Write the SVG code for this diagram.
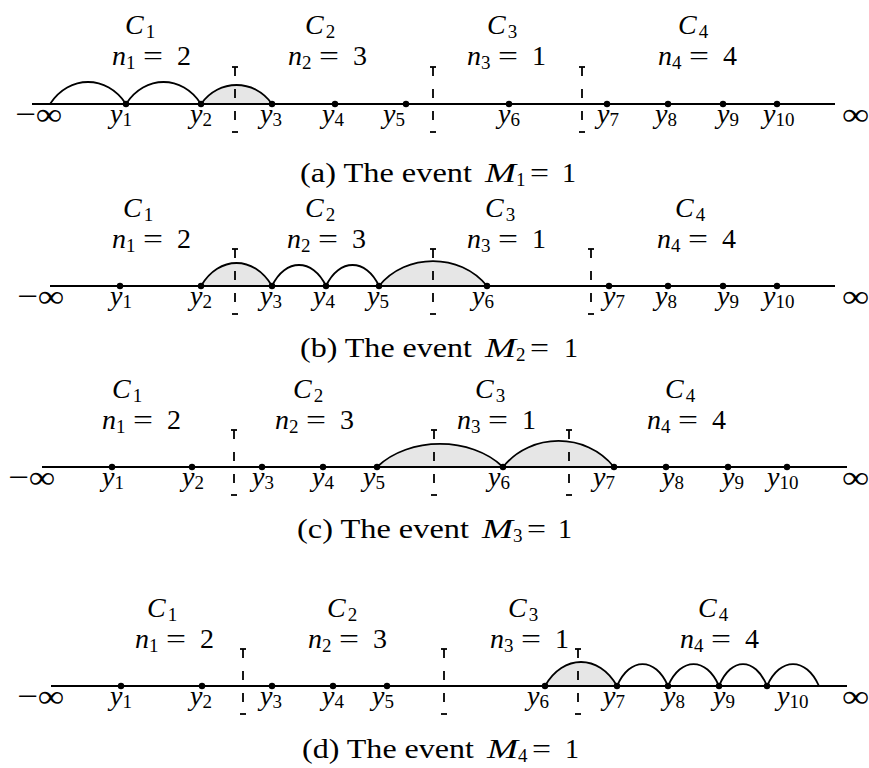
<svg xmlns="http://www.w3.org/2000/svg" width="869" height="768" viewBox="0 0 869 768">
<style>
.axis{stroke:#000;stroke-width:2;fill:none}
.arc{stroke:#000;stroke-width:1.8;fill:none}
.sh{fill:#e6e6e6;stroke:#000;stroke-width:1.8}
.dv{stroke:#000;stroke-width:1.8;stroke-dasharray:9 13;fill:none}
.tk{stroke:#000;stroke-width:1.8}
.dot{fill:#000}
text{font-family:"Liberation Serif","Times New Roman",serif;font-size:28px;fill:#000}
.m{font-style:italic}
.r{font-style:normal}
.s{font-size:19px;font-style:normal}
.inf{font-size:32px}
</style>
<rect width="869" height="768" fill="#fff"/>

<!-- Panel (a) -->
<g id="panel-a">
  <g id="a-connectors">
    <path class="sh" d="M201,104 C218.8,78.7 254.3,78.7 272,104Z"/>
    <line class="axis" x1="32" y1="104" x2="835" y2="104"/>
    <path class="arc" d="M50,104 C69,74.7 107,74.7 126,104"/>
    <path class="arc" d="M126,104 C144.8,74.7 182.3,74.7 201,104"/>
  </g>
  <g id="a-dividers">
    <line class="dv" x1="235" y1="67" x2="235" y2="132"/><line class="tk" x1="232" y1="67" x2="238" y2="67"/><line class="tk" x1="232" y1="132" x2="238" y2="132"/>
    <line class="dv" x1="433" y1="67" x2="433" y2="132"/><line class="tk" x1="430" y1="67" x2="436" y2="67"/><line class="tk" x1="430" y1="132" x2="436" y2="132"/>
    <line class="dv" x1="582" y1="67" x2="582" y2="132"/><line class="tk" x1="579" y1="67" x2="585" y2="67"/><line class="tk" x1="579" y1="132" x2="585" y2="132"/>
  </g>
  <g id="a-points">
    <circle class="dot" cx="126" cy="104" r="3.2"/><circle class="dot" cx="201" cy="104" r="3.2"/><circle class="dot" cx="272" cy="104" r="3.2"/><circle class="dot" cx="335" cy="104" r="3.2"/><circle class="dot" cx="406" cy="104" r="3.2"/>
    <circle class="dot" cx="509" cy="104" r="3.2"/><circle class="dot" cx="607" cy="104" r="3.2"/><circle class="dot" cx="668" cy="104" r="3.2"/><circle class="dot" cx="723" cy="104" r="3.2"/><circle class="dot" cx="777" cy="104" r="3.2"/>
  </g>
  <g id="a-labels">
    <text class="m" x="125" y="34">C<tspan class="s" dx="2" dy="4">1</tspan></text>
    <text class="m" x="305" y="34">C<tspan class="s" dx="2" dy="4">2</tspan></text>
    <text class="m" x="487" y="34">C<tspan class="s" dx="2" dy="4">3</tspan></text>
    <text class="m" x="678" y="34">C<tspan class="s" dx="2" dy="4">4</tspan></text>
    <text class="m" x="112" y="65">n<tspan class="s" dy="4">1</tspan><tspan class="r" x="143" dy="-4" textLength="20" lengthAdjust="spacingAndGlyphs">=</tspan><tspan class="r" x="177">2</tspan></text>
    <text class="m" x="288" y="65">n<tspan class="s" dy="4">2</tspan><tspan class="r" x="319" dy="-4" textLength="20" lengthAdjust="spacingAndGlyphs">=</tspan><tspan class="r" x="353">3</tspan></text>
    <text class="m" x="467" y="65">n<tspan class="s" dy="4">3</tspan><tspan class="r" x="498" dy="-4" textLength="20" lengthAdjust="spacingAndGlyphs">=</tspan><tspan class="r" x="532">1</tspan></text>
    <text class="m" x="658" y="65">n<tspan class="s" dy="4">4</tspan><tspan class="r" x="689" dy="-4" textLength="20" lengthAdjust="spacingAndGlyphs">=</tspan><tspan class="r" x="723">4</tspan></text>
    <text class="inf" x="15" y="125" textLength="47" lengthAdjust="spacingAndGlyphs">−∞</text>
    <text class="inf" x="842" y="125" textLength="27" lengthAdjust="spacingAndGlyphs">∞</text>
    <text class="m" x="110" y="123">y<tspan class="s" dy="3">1</tspan></text>
    <text class="m" x="190" y="123">y<tspan class="s" dy="3">2</tspan></text>
    <text class="m" x="260" y="123">y<tspan class="s" dy="3">3</tspan></text>
    <text class="m" x="322" y="123">y<tspan class="s" dy="3">4</tspan></text>
    <text class="m" x="383" y="123">y<tspan class="s" dy="3">5</tspan></text>
    <text class="m" x="498" y="123">y<tspan class="s" dy="3">6</tspan></text>
    <text class="m" x="597" y="123">y<tspan class="s" dy="3">7</tspan></text>
    <text class="m" x="655" y="123">y<tspan class="s" dy="3">8</tspan></text>
    <text class="m" x="717" y="123">y<tspan class="s" dy="3">9</tspan></text>
    <text class="m" x="763" y="123">y<tspan class="s" dy="3">10</tspan></text>
    <text x="300" y="182"><tspan textLength="172" lengthAdjust="spacingAndGlyphs">(a) The event</tspan><tspan class="m" x="485" textLength="31" lengthAdjust="spacingAndGlyphs">M</tspan><tspan class="s" dy="4">1</tspan><tspan x="530" dy="-4" textLength="19" lengthAdjust="spacingAndGlyphs">=</tspan><tspan x="562">1</tspan></text>
  </g>
</g>

<!-- Panel (b) -->
<g id="panel-b">
  <g id="b-connectors">
    <path class="sh" d="M201,286 C218.8,255.3 254.3,255.3 272,286Z"/>
    <path class="sh" d="M379,286 C406,252.7 460,252.7 487,286Z"/>
    <line class="axis" x1="50" y1="286" x2="835" y2="286"/>
    <path class="arc" d="M272,286 C285.5,258 312.5,258 326,286"/>
    <path class="arc" d="M326,286 C339.3,258 365.8,258 379,286"/>
  </g>
  <g id="b-dividers">
    <line class="dv" x1="235" y1="249" x2="235" y2="314"/><line class="tk" x1="232" y1="249" x2="238" y2="249"/><line class="tk" x1="232" y1="314" x2="238" y2="314"/>
    <line class="dv" x1="433" y1="249" x2="433" y2="314"/><line class="tk" x1="430" y1="249" x2="436" y2="249"/><line class="tk" x1="430" y1="314" x2="436" y2="314"/>
    <line class="dv" x1="591" y1="249" x2="591" y2="314"/><line class="tk" x1="588" y1="249" x2="594" y2="249"/><line class="tk" x1="588" y1="314" x2="594" y2="314"/>
  </g>
  <g id="b-points">
    <circle class="dot" cx="120" cy="286" r="3.2"/><circle class="dot" cx="201" cy="286" r="3.2"/><circle class="dot" cx="272" cy="286" r="3.2"/><circle class="dot" cx="326" cy="286" r="3.2"/><circle class="dot" cx="379" cy="286" r="3.2"/>
    <circle class="dot" cx="487" cy="286" r="3.2"/><circle class="dot" cx="609" cy="286" r="3.2"/><circle class="dot" cx="668" cy="286" r="3.2"/><circle class="dot" cx="723" cy="286" r="3.2"/><circle class="dot" cx="777" cy="286" r="3.2"/>
  </g>
  <g id="b-labels">
    <text class="m" x="123" y="217">C<tspan class="s" dx="2" dy="4">1</tspan></text>
    <text class="m" x="305" y="217">C<tspan class="s" dx="2" dy="4">2</tspan></text>
    <text class="m" x="485" y="217">C<tspan class="s" dx="2" dy="4">3</tspan></text>
    <text class="m" x="675" y="217">C<tspan class="s" dx="2" dy="4">4</tspan></text>
    <text class="m" x="112" y="248">n<tspan class="s" dy="4">1</tspan><tspan class="r" x="143" dy="-4" textLength="20" lengthAdjust="spacingAndGlyphs">=</tspan><tspan class="r" x="177">2</tspan></text>
    <text class="m" x="287" y="248">n<tspan class="s" dy="4">2</tspan><tspan class="r" x="318" dy="-4" textLength="20" lengthAdjust="spacingAndGlyphs">=</tspan><tspan class="r" x="352">3</tspan></text>
    <text class="m" x="467" y="248">n<tspan class="s" dy="4">3</tspan><tspan class="r" x="498" dy="-4" textLength="20" lengthAdjust="spacingAndGlyphs">=</tspan><tspan class="r" x="532">1</tspan></text>
    <text class="m" x="657" y="248">n<tspan class="s" dy="4">4</tspan><tspan class="r" x="688" dy="-4" textLength="20" lengthAdjust="spacingAndGlyphs">=</tspan><tspan class="r" x="722">4</tspan></text>
    <text class="inf" x="17" y="307" textLength="47" lengthAdjust="spacingAndGlyphs">−∞</text>
    <text class="inf" x="842" y="307" textLength="27" lengthAdjust="spacingAndGlyphs">∞</text>
    <text class="m" x="110" y="305">y<tspan class="s" dy="3">1</tspan></text>
    <text class="m" x="190" y="305">y<tspan class="s" dy="3">2</tspan></text>
    <text class="m" x="260" y="305">y<tspan class="s" dy="3">3</tspan></text>
    <text class="m" x="313" y="305">y<tspan class="s" dy="3">4</tspan></text>
    <text class="m" x="367" y="305">y<tspan class="s" dy="3">5</tspan></text>
    <text class="m" x="472" y="305">y<tspan class="s" dy="3">6</tspan></text>
    <text class="m" x="603" y="305">y<tspan class="s" dy="3">7</tspan></text>
    <text class="m" x="655" y="305">y<tspan class="s" dy="3">8</tspan></text>
    <text class="m" x="717" y="305">y<tspan class="s" dy="3">9</tspan></text>
    <text class="m" x="763" y="305">y<tspan class="s" dy="3">10</tspan></text>
    <text x="300" y="357"><tspan textLength="172" lengthAdjust="spacingAndGlyphs">(b) The event</tspan><tspan class="m" x="485" textLength="31" lengthAdjust="spacingAndGlyphs">M</tspan><tspan class="s" dy="4">2</tspan><tspan x="530" dy="-4" textLength="19" lengthAdjust="spacingAndGlyphs">=</tspan><tspan x="564">1</tspan></text>
  </g>
</g>

<!-- Panel (c) -->
<g id="panel-c">
  <g id="c-connectors">
    <path class="sh" d="M377,467 C408.5,436.3 471.5,436.3 503,467Z"/>
    <path class="sh" d="M503,467 C530.8,432.3 586.3,432.3 614,467Z"/>
    <line class="axis" x1="42" y1="467" x2="847" y2="467"/>
  </g>
  <g id="c-dividers">
    <line class="dv" x1="234" y1="430" x2="234" y2="495"/><line class="tk" x1="231" y1="430" x2="237" y2="430"/><line class="tk" x1="231" y1="495" x2="237" y2="495"/>
    <line class="dv" x1="434" y1="430" x2="434" y2="495"/><line class="tk" x1="431" y1="430" x2="437" y2="430"/><line class="tk" x1="431" y1="495" x2="437" y2="495"/>
    <line class="dv" x1="569" y1="430" x2="569" y2="495"/><line class="tk" x1="566" y1="430" x2="572" y2="430"/><line class="tk" x1="566" y1="495" x2="572" y2="495"/>
  </g>
  <g id="c-points">
    <circle class="dot" cx="112" cy="467" r="3.2"/><circle class="dot" cx="192" cy="467" r="3.2"/><circle class="dot" cx="262" cy="467" r="3.2"/><circle class="dot" cx="323" cy="467" r="3.2"/><circle class="dot" cx="377" cy="467" r="3.2"/>
    <circle class="dot" cx="503" cy="467" r="3.2"/><circle class="dot" cx="614" cy="467" r="3.2"/><circle class="dot" cx="666" cy="467" r="3.2"/><circle class="dot" cx="728" cy="467" r="3.2"/><circle class="dot" cx="787" cy="467" r="3.2"/>
  </g>
  <g id="c-labels">
    <text class="m" x="112" y="398">C<tspan class="s" dx="2" dy="4">1</tspan></text>
    <text class="m" x="293" y="398">C<tspan class="s" dx="2" dy="4">2</tspan></text>
    <text class="m" x="475" y="398">C<tspan class="s" dx="2" dy="4">3</tspan></text>
    <text class="m" x="665" y="398">C<tspan class="s" dx="2" dy="4">4</tspan></text>
    <text class="m" x="102" y="429">n<tspan class="s" dy="4">1</tspan><tspan class="r" x="133" dy="-4" textLength="20" lengthAdjust="spacingAndGlyphs">=</tspan><tspan class="r" x="167">2</tspan></text>
    <text class="m" x="275" y="429">n<tspan class="s" dy="4">2</tspan><tspan class="r" x="306" dy="-4" textLength="20" lengthAdjust="spacingAndGlyphs">=</tspan><tspan class="r" x="340">3</tspan></text>
    <text class="m" x="457" y="429">n<tspan class="s" dy="4">3</tspan><tspan class="r" x="488" dy="-4" textLength="20" lengthAdjust="spacingAndGlyphs">=</tspan><tspan class="r" x="522">1</tspan></text>
    <text class="m" x="647" y="429">n<tspan class="s" dy="4">4</tspan><tspan class="r" x="678" dy="-4" textLength="20" lengthAdjust="spacingAndGlyphs">=</tspan><tspan class="r" x="712">4</tspan></text>
    <text class="inf" x="8" y="488" textLength="47" lengthAdjust="spacingAndGlyphs">−∞</text>
    <text class="inf" x="842" y="488" textLength="27" lengthAdjust="spacingAndGlyphs">∞</text>
    <text class="m" x="102" y="486">y<tspan class="s" dy="3">1</tspan></text>
    <text class="m" x="182" y="486">y<tspan class="s" dy="3">2</tspan></text>
    <text class="m" x="252" y="486">y<tspan class="s" dy="3">3</tspan></text>
    <text class="m" x="312" y="486">y<tspan class="s" dy="3">4</tspan></text>
    <text class="m" x="363" y="486">y<tspan class="s" dy="3">5</tspan></text>
    <text class="m" x="488" y="486">y<tspan class="s" dy="3">6</tspan></text>
    <text class="m" x="593" y="486">y<tspan class="s" dy="3">7</tspan></text>
    <text class="m" x="662" y="486">y<tspan class="s" dy="3">8</tspan></text>
    <text class="m" x="722" y="486">y<tspan class="s" dy="3">9</tspan></text>
    <text class="m" x="767" y="486">y<tspan class="s" dy="3">10</tspan></text>
    <text x="297" y="538"><tspan textLength="172" lengthAdjust="spacingAndGlyphs">(c) The event</tspan><tspan class="m" x="482" textLength="31" lengthAdjust="spacingAndGlyphs">M</tspan><tspan class="s" dy="4">3</tspan><tspan x="527" dy="-4" textLength="19" lengthAdjust="spacingAndGlyphs">=</tspan><tspan x="558">1</tspan></text>
  </g>
</g>

<!-- Panel (d) -->
<g id="panel-d">
  <g id="d-connectors">
    <path class="sh" d="M545,686 C563,654 599,654 617,686Z"/>
    <line class="axis" x1="51" y1="686" x2="847" y2="686"/>
    <path class="arc" d="M617,686 C629.8,656.7 655.3,656.7 668,686"/>
    <path class="arc" d="M668,686 C680.8,656.7 706.3,656.7 719,686"/>
    <path class="arc" d="M719,686 C731,656.7 755,656.7 767,686"/>
    <path class="arc" d="M767,686 C780,656.7 806,656.7 819,686"/>
  </g>
  <g id="d-dividers">
    <line class="dv" x1="243" y1="649" x2="243" y2="714"/><line class="tk" x1="240" y1="649" x2="246" y2="649"/><line class="tk" x1="240" y1="714" x2="246" y2="714"/>
    <line class="dv" x1="444" y1="649" x2="444" y2="714"/><line class="tk" x1="441" y1="649" x2="447" y2="649"/><line class="tk" x1="441" y1="714" x2="447" y2="714"/>
    <line class="dv" x1="578" y1="649" x2="578" y2="714"/><line class="tk" x1="575" y1="649" x2="581" y2="649"/><line class="tk" x1="575" y1="714" x2="581" y2="714"/>
  </g>
  <g id="d-points">
    <circle class="dot" cx="121" cy="686" r="3.2"/><circle class="dot" cx="202" cy="686" r="3.2"/><circle class="dot" cx="272" cy="686" r="3.2"/><circle class="dot" cx="333" cy="686" r="3.2"/><circle class="dot" cx="387" cy="686" r="3.2"/>
    <circle class="dot" cx="545" cy="686" r="3.2"/><circle class="dot" cx="617" cy="686" r="3.2"/><circle class="dot" cx="668" cy="686" r="3.2"/><circle class="dot" cx="719" cy="686" r="3.2"/><circle class="dot" cx="767" cy="686" r="3.2"/>
  </g>
  <g id="d-labels">
    <text class="m" x="147" y="617">C<tspan class="s" dx="2" dy="4">1</tspan></text>
    <text class="m" x="327" y="617">C<tspan class="s" dx="2" dy="4">2</tspan></text>
    <text class="m" x="508" y="617">C<tspan class="s" dx="2" dy="4">3</tspan></text>
    <text class="m" x="698" y="617">C<tspan class="s" dx="2" dy="4">4</tspan></text>
    <text class="m" x="135" y="648">n<tspan class="s" dy="4">1</tspan><tspan class="r" x="166" dy="-4" textLength="20" lengthAdjust="spacingAndGlyphs">=</tspan><tspan class="r" x="200">2</tspan></text>
    <text class="m" x="308" y="648">n<tspan class="s" dy="4">2</tspan><tspan class="r" x="339" dy="-4" textLength="20" lengthAdjust="spacingAndGlyphs">=</tspan><tspan class="r" x="373">3</tspan></text>
    <text class="m" x="490" y="648">n<tspan class="s" dy="4">3</tspan><tspan class="r" x="521" dy="-4" textLength="20" lengthAdjust="spacingAndGlyphs">=</tspan><tspan class="r" x="555">1</tspan></text>
    <text class="m" x="680" y="648">n<tspan class="s" dy="4">4</tspan><tspan class="r" x="711" dy="-4" textLength="20" lengthAdjust="spacingAndGlyphs">=</tspan><tspan class="r" x="745">4</tspan></text>
    <text class="inf" x="17" y="707" textLength="47" lengthAdjust="spacingAndGlyphs">−∞</text>
    <text class="inf" x="842" y="707" textLength="27" lengthAdjust="spacingAndGlyphs">∞</text>
    <text class="m" x="110" y="705">y<tspan class="s" dy="3">1</tspan></text>
    <text class="m" x="190" y="705">y<tspan class="s" dy="3">2</tspan></text>
    <text class="m" x="260" y="705">y<tspan class="s" dy="3">3</tspan></text>
    <text class="m" x="322" y="705">y<tspan class="s" dy="3">4</tspan></text>
    <text class="m" x="372" y="705">y<tspan class="s" dy="3">5</tspan></text>
    <text class="m" x="527" y="705">y<tspan class="s" dy="3">6</tspan></text>
    <text class="m" x="603" y="705">y<tspan class="s" dy="3">7</tspan></text>
    <text class="m" x="663" y="705">y<tspan class="s" dy="3">8</tspan></text>
    <text class="m" x="713" y="705">y<tspan class="s" dy="3">9</tspan></text>
    <text class="m" x="777" y="705">y<tspan class="s" dy="3">10</tspan></text>
    <text x="302" y="758"><tspan textLength="172" lengthAdjust="spacingAndGlyphs">(d) The event</tspan><tspan class="m" x="487" textLength="31" lengthAdjust="spacingAndGlyphs">M</tspan><tspan class="s" dy="4">4</tspan><tspan x="532" dy="-4" textLength="19" lengthAdjust="spacingAndGlyphs">=</tspan><tspan x="565">1</tspan></text>
  </g>
</g>
</svg>
